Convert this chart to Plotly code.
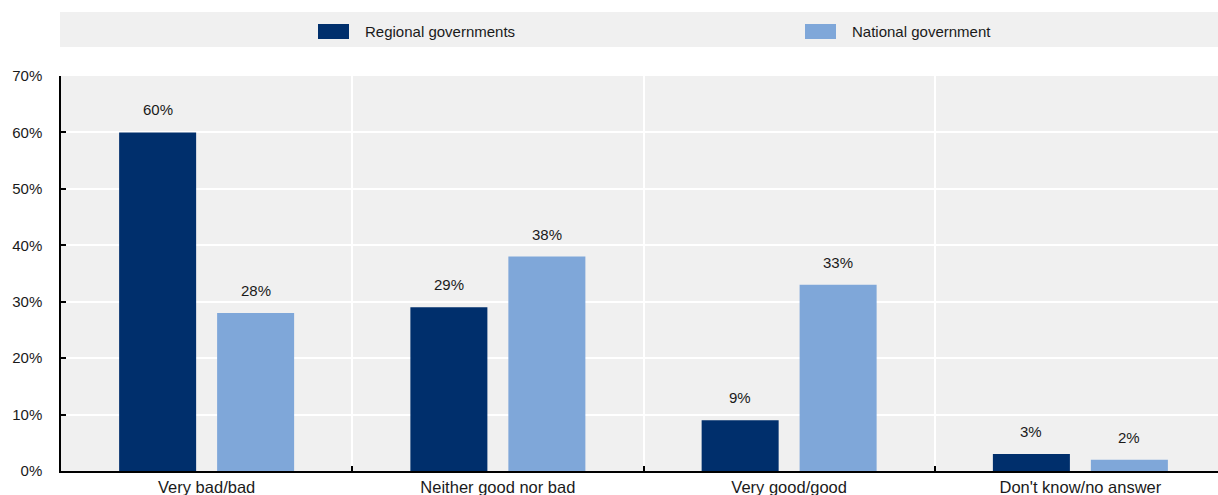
import plotly.graph_objects as go

# Survey answers and shares (%) per level of government
categories = ["Very bad/bad", "Neither good nor bad", "Very good/good", "Don't know/no answer"]
series_names = ["Regional governments", "National government"]
regional = [60, 29, 9, 3]
national = [28, 38, 33, 2]
y_ticks = [0, 10, 20, 30, 40, 50, 60, 70]

colors = ["#002F6C", "#7FA7D9"]
FONT = "Liberation Sans, Arial, sans-serif"
TXT = "#1a1a1a"

W, H = 1218, 495
ML, MR, MT, MB = 61, 0, 76, 24
PW = W - ML - MR
PH = H - MT - MB

# category slot geometry (data units)
x_range = [-0.5, 3.4725]
slot = 0.3364          # width reserved per bar inside a group
bargap = 1 - 2 * slot
bargroupgap = 0.214

fig = go.Figure()
for name, vals, col in zip(series_names, [regional, national], colors):
    fig.add_trace(go.Bar(
        x=categories, y=vals, name=name, marker=dict(color=col, line=dict(width=0)),
        showlegend=False, hoverinfo="skip",
    ))

# value labels above each bar
annotations = []
for k, vals in enumerate([regional, national]):
    off = (-0.5 + k) * slot
    for i, v in enumerate(vals):
        annotations.append(dict(
            x=i + off, y=v, xref="x", yref="y", text=f"{v}%", showarrow=False,
            yanchor="bottom", yshift=12, font=dict(family=FONT, size=15, color=TXT),
        ))


def px_x(p):
    return (p - ML) / PW


def px_y(p):
    return (H - MB - p) / PH


shapes = [
    # legend band
    dict(type="rect", xref="paper", yref="paper", x0=px_x(60), x1=px_x(W + 2),
         y0=px_y(47), y1=px_y(12), fillcolor="#f0f0f0", line=dict(width=0), layer="below"),
]
legend_pos = [318, 805]
for name, col, lx in zip(series_names, colors, legend_pos):
    shapes.append(dict(type="rect", xref="paper", yref="paper", x0=px_x(lx), x1=px_x(lx + 31),
                       y0=px_y(39), y1=px_y(24), fillcolor=col, line=dict(width=0)))
    annotations.append(dict(x=px_x(lx + 45), y=px_y(31.5), xref="paper", yref="paper",
                            text=name, showarrow=False, xanchor="left", yanchor="middle",
                            font=dict(family=FONT, size=15, color=TXT)))

fig.update_layout(
    width=W, height=H,
    margin=dict(l=ML, r=MR, t=MT, b=MB, pad=0),
    paper_bgcolor="white", plot_bgcolor="#f0f0f0",
    barmode="group", bargap=bargap, bargroupgap=bargroupgap,
    font=dict(family=FONT, size=15, color=TXT),
    shapes=shapes, annotations=annotations,
    xaxis=dict(
        type="category", range=x_range, tickson="boundaries",
        ticks="inside", ticklen=5, tickcolor="black", tickwidth=1.5,
        showline=True, linecolor="black", linewidth=1.5,
        showgrid=True, gridcolor="white", gridwidth=2,
        tickfont=dict(family=FONT, size=16.5, color=TXT), fixedrange=True,
    ),
    yaxis=dict(
        range=[0, 70], tickvals=y_ticks, ticktext=[f"{t}%" for t in y_ticks],
        ticks="inside", ticklen=5, tickcolor="black", tickwidth=1.5,
        showline=True, linecolor="black", linewidth=1.5,
        showgrid=True, gridcolor="white", gridwidth=2, zeroline=False,
        tickfont=dict(family=FONT, size=15, color=TXT), ticklabelstandoff=14,
        fixedrange=True,
    ),
)

fig.write_html("out.html", config={"displayModeBar": False})
